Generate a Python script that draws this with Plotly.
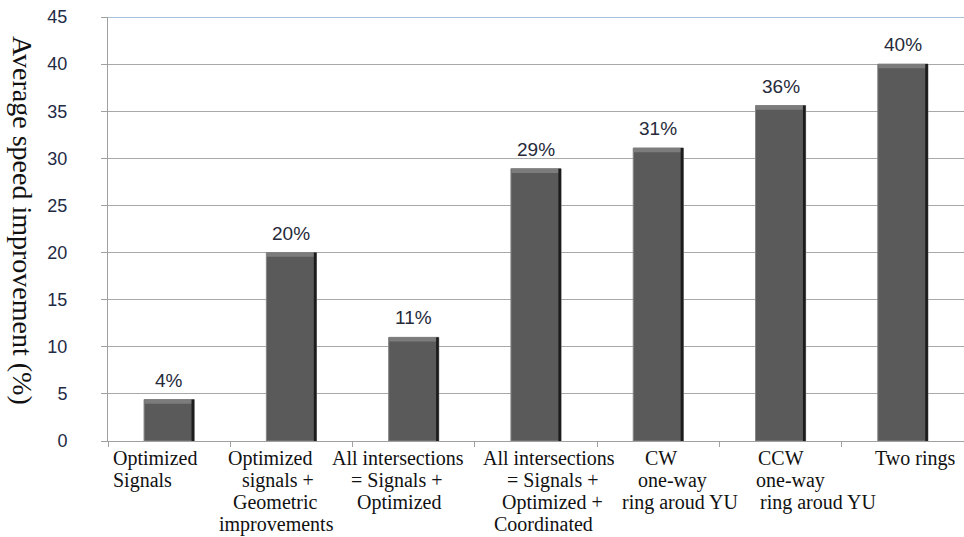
import plotly.graph_objects as go

# Scenario categories and the lines of their axis captions
categories = [
    "Optimized Signals",
    "Optimized signals + Geometric improvements",
    "All intersections = Signals + Optimized",
    "All intersections = Signals + Optimized + Coordinated",
    "CW one-way ring aroud YU",
    "CCW one-way ring aroud YU",
    "Two rings",
]
category_lines = [
    ["Optimized", "Signals"],
    ["Optimized", "signals +", "Geometric", "improvements"],
    ["All intersections", "= Signals +", "Optimized"],
    ["All intersections", "= Signals +", "Optimized +", "Coordinated"],
    ["CW", "one-way", "ring aroud YU"],
    ["CCW", "one-way", "ring aroud YU"],
    ["Two rings"],
]
# Average speed improvement in percent
speed_improvement = [4.4, 20.0, 11.0, 28.9, 31.1, 35.6, 40.0]
y_ticks = [0, 5, 10, 15, 20, 25, 30, 35, 40, 45]

# Horizontal nudges (px) for each caption line, giving the staggered layout
line_shifts = [
    [-14, -27],
    [-21, -13, -16, -15],
    [-16, -17, -15],
    [13, 16, 16, 7],
    [3, 14, 22],
    [0, 10, 37],
    [12],
]

serif = "Liberation Serif, Times New Roman, serif"
sans = "Liberation Sans, Arial, sans-serif"

BAR_W = 0.41
EDGE_W = 0.022
BEVEL_H = 0.45  # height of the lighter top bevel, in axis units

fig = go.Figure()
# Main bar body
fig.add_trace(go.Bar(
    x=categories, y=speed_improvement, width=BAR_W,
    marker=dict(color="#5a5a5a", line=dict(color="#858585", width=1)),
    hoverinfo="skip",
))
# Lighter bevel along the top of each bar
fig.add_trace(go.Bar(
    x=categories, y=[BEVEL_H] * len(speed_improvement),
    base=[v - BEVEL_H for v in speed_improvement],
    width=BAR_W - 0.01,
    marker=dict(color="#7c7c7c", line=dict(width=0)),
    hoverinfo="skip",
))
# Dark shaded right edge
fig.add_trace(go.Bar(
    x=categories, y=speed_improvement,
    width=EDGE_W, offset=BAR_W / 2 - EDGE_W,
    marker=dict(color="#1c1c1c", line=dict(width=0)),
    hoverinfo="skip",
))

annotations = []
# Value labels above the bars, formatted from the bar values
for cat, val in zip(categories, speed_improvement):
    annotations.append(dict(
        x=cat, y=val, xref="x", yref="y",
        text=f"{val:.0f}%", showarrow=False,
        yanchor="bottom", yshift=7,
        font=dict(family=sans, size=19, color="#262a3a"),
    ))
# Multi-line category captions under the axis
for cat, lines, shifts in zip(categories, category_lines, line_shifts):
    for i, (line, dx) in enumerate(zip(lines, shifts)):
        annotations.append(dict(
            x=cat, y=0, xref="x", yref="paper",
            text=line, showarrow=False,
            xanchor="center", yanchor="middle",
            xshift=dx, yshift=-17 - 22 * i,
            font=dict(family=serif, size=20, color="#111111"),
        ))
# Axis title, reading top to bottom
annotations.append(dict(
    text="Average speed improvement (%)",
    textangle=90,
    xref="paper", yref="paper",
    x=-0.1005, y=0.519, xanchor="center", yanchor="middle",
    showarrow=False,
    font=dict(family=serif, size=28, color="#111111"),
))

fig.update_layout(
    width=964, height=537,
    margin=dict(l=108, r=0, t=17, b=96),
    paper_bgcolor="white", plot_bgcolor="white",
    showlegend=False,
    barmode="overlay",
    xaxis=dict(
        type="category",
        tickson="boundaries",
        ticks="outside", ticklen=5, tickcolor="#a0a0a0",
        showline=True, linecolor="#a0a0a0", linewidth=1,
        showgrid=False,
        showticklabels=False,
    ),
    yaxis=dict(
        range=[0, 45],
        tickvals=y_ticks,
        ticks="outside", ticklen=6, tickcolor="#a0a0a0",
        showline=True, linecolor="#a0a0a0", linewidth=1,
        showgrid=True, gridcolor="#a8a8a8", gridwidth=1,
        zeroline=False,
        ticklabelstandoff=30,
        tickfont=dict(family=sans, size=18, color="#1f2a44"),
    ),
    annotations=annotations,
    shapes=[dict(
        type="line", xref="paper", yref="y",
        x0=0, x1=1, y0=45, y1=45,
        line=dict(color="#4f81bd", width=1.2),
    )],
)

fig.write_html("out.html")
